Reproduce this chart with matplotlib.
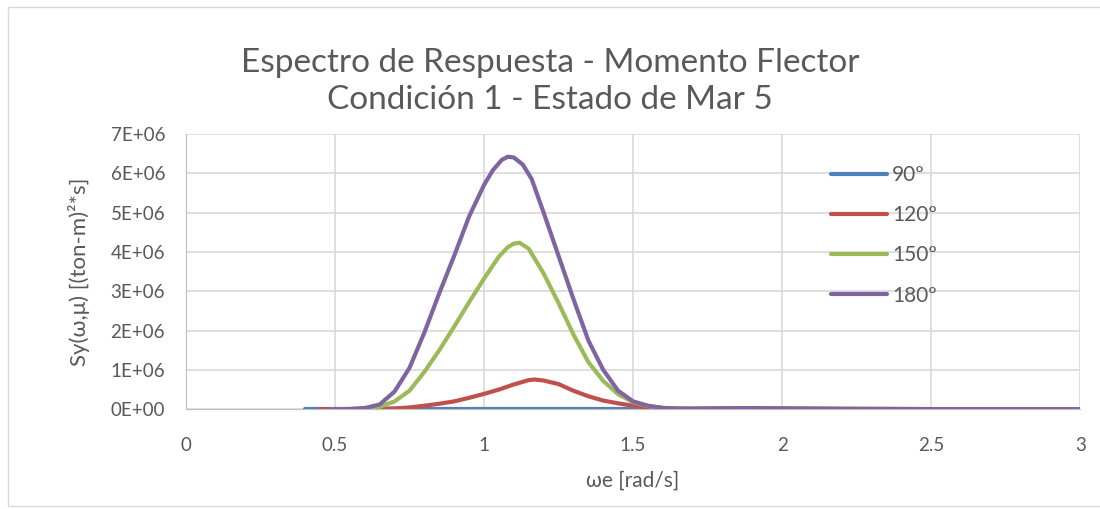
import matplotlib
matplotlib.use("Agg")
import matplotlib.pyplot as plt
from matplotlib.ticker import FuncFormatter, MultipleLocator
from matplotlib.patches import Rectangle

plt.rcParams['font.family'] = ['Lato', 'DejaVu Sans']

# data (values in 1E6 units)
w_90 = [0.40, 0.60, 0.80, 1.00, 1.20, 1.40, 1.575]
s_90 = [0, 0, 0, 0, 0, 0, 0]

w_120 = [0.45, 0.50, 0.55, 0.60, 0.65, 0.70, 0.75, 0.80, 0.85, 0.90, 0.95, 1.00,
         1.05, 1.10, 1.15, 1.17, 1.20, 1.25, 1.30, 1.35, 1.40, 1.45, 1.50, 1.55,
         1.60, 1.70, 1.80, 1.90, 2.00, 2.20, 2.50, 3.00]
s_120 = [0, 0.002, 0.005, 0.01, 0.015, 0.02, 0.045, 0.09, 0.14, 0.20, 0.29, 0.39,
         0.50, 0.63, 0.74, 0.755, 0.73, 0.64, 0.47, 0.33, 0.22, 0.15, 0.09, 0.05,
         0.03, 0.01, 0.02, 0.025, 0.02, 0.01, 0.004, 0.001]

w_150 = [0.49, 0.55, 0.60, 0.65, 0.70, 0.75, 0.80, 0.85, 0.90, 0.95, 1.00, 1.05,
         1.08, 1.10, 1.12, 1.15, 1.20, 1.25, 1.30, 1.35, 1.40, 1.45, 1.50, 1.55,
         1.60, 1.70, 1.80, 1.90, 2.00, 2.20, 2.50, 3.00]
s_150 = [0, 0.005, 0.02, 0.06, 0.20, 0.47, 0.95, 1.50, 2.10, 2.72, 3.32, 3.88,
         4.12, 4.21, 4.23, 4.08, 3.45, 2.70, 1.90, 1.20, 0.72, 0.38, 0.18, 0.08,
         0.03, 0.012, 0.02, 0.025, 0.02, 0.01, 0.004, 0.001]

w_180 = [0.49, 0.55, 0.60, 0.65, 0.70, 0.75, 0.80, 0.85, 0.90, 0.95, 1.00, 1.03,
         1.06, 1.08, 1.10, 1.13, 1.16, 1.20, 1.25, 1.30, 1.35, 1.40, 1.45, 1.50,
         1.55, 1.60, 1.65, 1.70, 1.80, 1.90, 2.00, 2.20, 2.50, 3.00]
s_180 = [0, 0.005, 0.03, 0.12, 0.45, 1.05, 1.95, 2.95, 3.90, 4.90, 5.70, 6.08,
         6.34, 6.42, 6.40, 6.22, 5.85, 5.00, 3.90, 2.80, 1.75, 1.00, 0.47, 0.20,
         0.09, 0.035, 0.015, 0.015, 0.025, 0.03, 0.02, 0.01, 0.004, 0.001]

labels = ['90º', '120º', '150º', '180º']
colors = ['#4f81bd', '#c0504d', '#9bbb59', '#8064a2']

fig = plt.figure(figsize=(11, 5.09), dpi=100)
ax = fig.add_axes([0.169, 0.196, 0.813, 0.541])

series = [(w_90, s_90), (w_120, s_120), (w_150, s_150), (w_180, s_180)]
for (w, s), lab, c in zip(series, labels, colors):
    ax.plot(w, [v * 1e6 for v in s], color=c, lw=3, label=lab,
            solid_capstyle='round', solid_joinstyle='round')

ax.set_xlim(0, 3)
ax.set_ylim(0, 7e6)
ax.xaxis.set_major_locator(MultipleLocator(0.5))
ax.yaxis.set_major_locator(MultipleLocator(1e6))
ax.yaxis.set_major_formatter(FuncFormatter(lambda v, p: "%.0E" % v))
ax.xaxis.set_major_formatter(FuncFormatter(lambda v, p: "%g" % v))
ax.grid(True, color='#d9d9d9', lw=1.2)
ax.set_axisbelow(True)
for sp in ['top', 'right']:
    ax.spines[sp].set_visible(False)
ax.spines['left'].set_color('#bfbfbf')
ax.spines['bottom'].set_color('#bfbfbf')
ax.tick_params(length=0, labelsize=13.5, colors='#595959')
ax.tick_params(axis='y', pad=15)
ax.tick_params(axis='x', pad=20)

ax.set_xlabel('ωe [rad/s]', fontsize=15, color='#595959', labelpad=12)
ax.set_ylabel('Sy(ω,μ) [(ton-m)²*s]', fontsize=16, color='#595959', labelpad=15)

fig.text(0.5, 0.84, 'Espectro de Respuesta - Momento Flector\nCondición 1 - Estado de Mar 5',
         fontsize=24, color='#595959', ha='center', va='center', linespacing=1.3)

ax.legend(loc='upper left', bbox_to_anchor=(0.70, 0.955), frameon=False,
          fontsize=15, labelcolor='#595959', handlelength=2.7,
          labelspacing=0.97, handletextpad=0.25)

fig.patches.append(Rectangle((0.007, 0.005), 1.2, 0.982, transform=fig.transFigure,
                             fill=False, edgecolor='#d9d9d9', lw=1))

fig.savefig('out.png', dpi=100)
